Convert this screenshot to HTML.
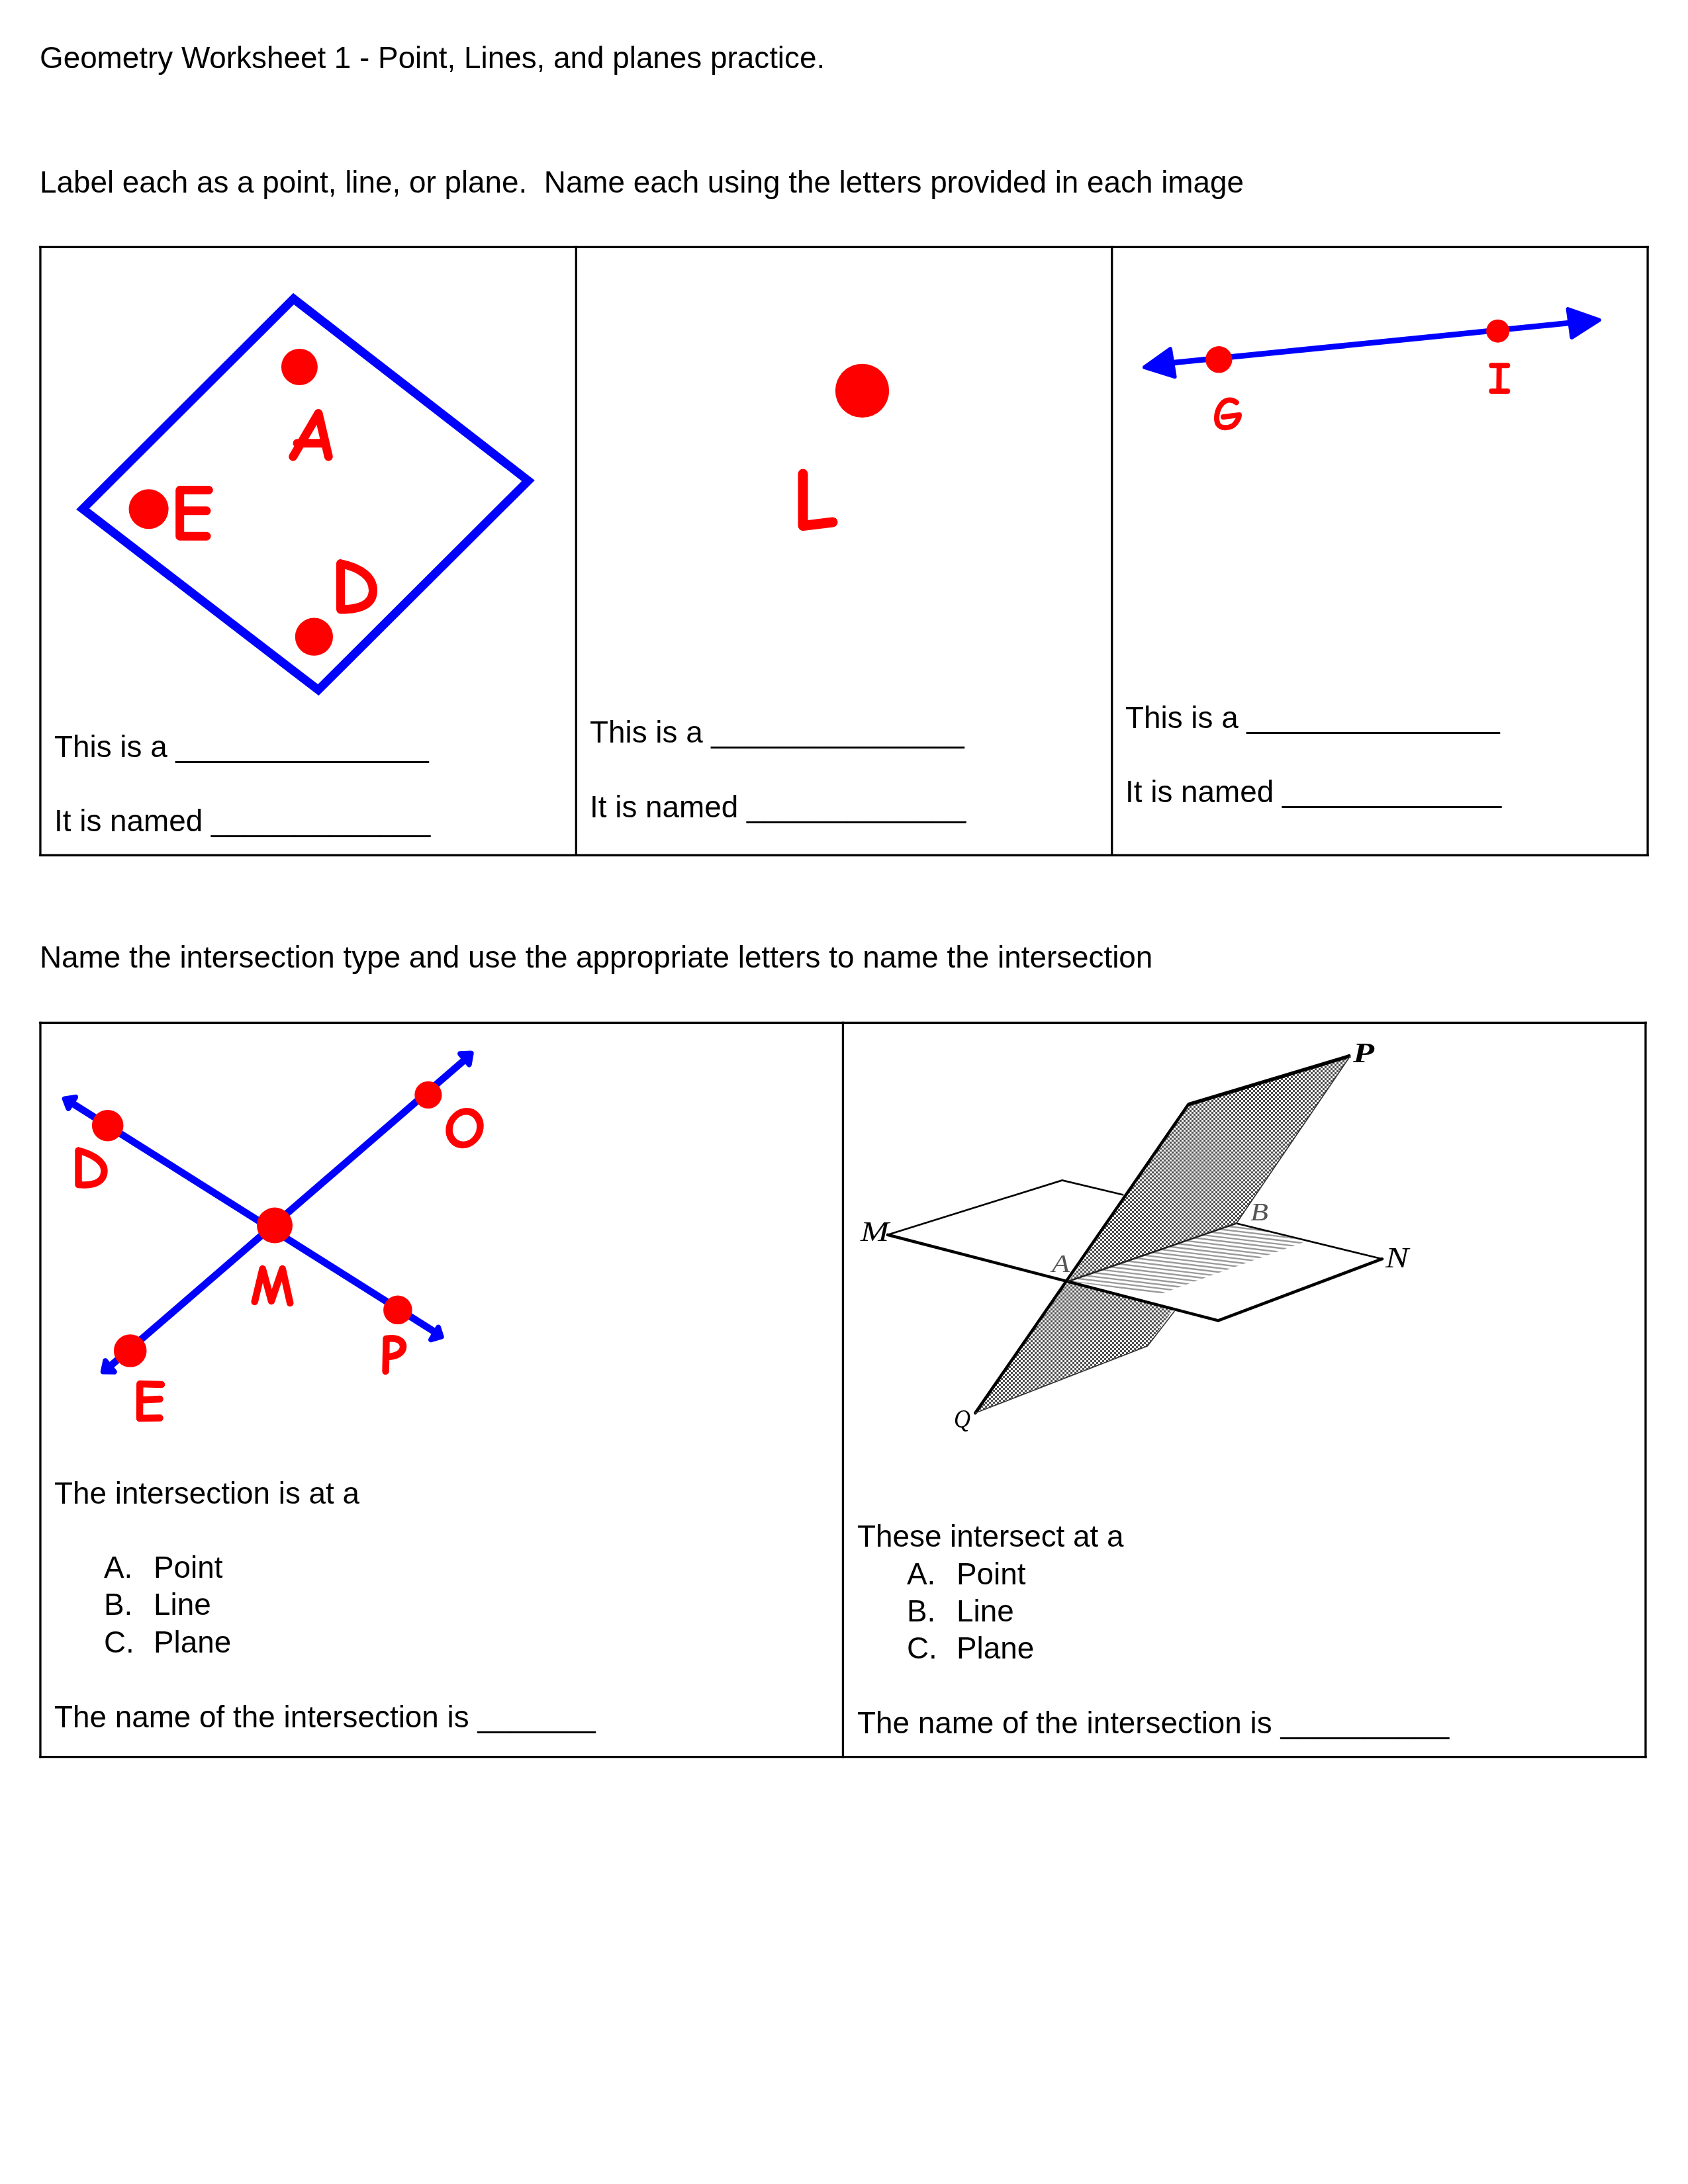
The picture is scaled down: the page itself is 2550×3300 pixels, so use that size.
<!DOCTYPE html>
<html>
<head>
<meta charset="utf-8">
<style>
html,body{margin:0;padding:0;background:#fff;}
body{width:2550px;height:3300px;position:relative;overflow:hidden;font-family:"Liberation Sans",sans-serif;font-size:45.83px;color:#000;}
.t{position:absolute;white-space:pre;line-height:45.83px;will-change:transform;}
.b{position:absolute;background:#000;}
svg{position:absolute;left:0;top:0;}
</style>
</head>
<body>
<!-- text -->
<div class="t" style="left:60px;top:65px">Geometry Worksheet 1 - Point, Lines, and planes practice.</div>
<div class="t" style="left:60px;top:253px">Label each as a point, line, or plane.  Name each using the letters provided in each image</div>

<div class="t" style="left:82px;top:1106px">This is a _______________</div>
<div class="t" style="left:82px;top:1218px">It is named _____________</div>

<div class="t" style="left:891px;top:1084px">This is a _______________</div>
<div class="t" style="left:891px;top:1196.5px">It is named _____________</div>

<div class="t" style="left:1700px;top:1062px">This is a _______________</div>
<div class="t" style="left:1700px;top:1174.4px">It is named _____________</div>

<div class="t" style="left:60px;top:1424px">Name the intersection type and use the appropriate letters to name the intersection</div>

<div class="t" style="left:82px;top:2234px">The intersection is at a</div>
<div class="t" style="left:157px;top:2346.4px">A.</div><div class="t" style="left:232px;top:2346.4px">Point</div>
<div class="t" style="left:157px;top:2402.4px">B.</div><div class="t" style="left:232px;top:2402.4px">Line</div>
<div class="t" style="left:157px;top:2458.8px">C.</div><div class="t" style="left:232px;top:2458.8px">Plane</div>
<div class="t" style="left:82px;top:2571.5px">The name of the intersection is _______</div>

<div class="t" style="left:1294.5px;top:2299.4px">These intersect at a</div>
<div class="t" style="left:1369.5px;top:2355.7px">A.</div><div class="t" style="left:1444.5px;top:2355.7px">Point</div>
<div class="t" style="left:1369.5px;top:2411.8px">B.</div><div class="t" style="left:1444.5px;top:2411.8px">Line</div>
<div class="t" style="left:1369.5px;top:2468.4px">C.</div><div class="t" style="left:1444.5px;top:2468.4px">Plane</div>
<div class="t" style="left:1294.5px;top:2580.8px">The name of the intersection is __________</div>

<svg width="2550" height="3300" viewBox="0 0 2550 3300">
<!-- GRAPHICS -->
<g stroke="#000" stroke-width="3.3"><line x1="59.30" y1="373.45" x2="2490.75" y2="373.45"/><line x1="59.30" y1="1292.27" x2="2490.75" y2="1292.27"/><line x1="60.95" y1="371.80" x2="60.95" y2="1293.92"/><line x1="870.35" y1="371.80" x2="870.35" y2="1293.92"/><line x1="1679.7" y1="371.80" x2="1679.7" y2="1293.92"/><line x1="2489.1" y1="371.80" x2="2489.1" y2="1293.92"/><line x1="59.32" y1="1545.4" x2="2487.60" y2="1545.4"/><line x1="59.32" y1="2654.6" x2="2487.60" y2="2654.6"/><line x1="60.97" y1="1543.75" x2="60.97" y2="2656.25"/><line x1="1273.45" y1="1543.75" x2="1273.45" y2="2656.25"/><line x1="2485.95" y1="1543.75" x2="2485.95" y2="2656.25"/></g>
<polygon points="443.5,451.5 798,726.3 480.8,1042.5 125,769" fill="none" stroke="#0000ff" stroke-width="13" stroke-linejoin="miter"/>
<circle cx="452.4" cy="554.5" r="27.5" fill="#ff0000"/>
<circle cx="224.6" cy="769.3" r="30" fill="#ff0000"/>
<circle cx="474.4" cy="962.2" r="28.6" fill="#ff0000"/>
<g fill="none" stroke="#ff0000" stroke-width="13" stroke-linecap="round" stroke-linejoin="round"><path d="M442.7,690 L481,624.6 L496.3,690 M449,669.8 L489,669.8"/><path d="M315.3,740.5 L271.7,740.5 L271.7,810.2 L312,810.2 M271.7,771.8 L312,771.8"/><path d="M514.5,851.5 L514.5,921 M514.5,851.5 C545,858 564,872 563.5,893 C563,913 545,921 514.5,921"/></g>
<circle cx="1302.5" cy="590.4" r="40.7" fill="#ff0000"/>
<path d="M1213,716 L1213,794.5 L1258,789" fill="none" stroke="#ff0000" stroke-width="15" stroke-linecap="round" stroke-linejoin="round"/>
<line x1="1740" y1="551.4" x2="2405" y2="484.6" stroke="#0000ff" stroke-width="8.5"/>
<polygon points="1729.0,554.9 1767.9,527.2 1774.6,569.2" fill="#0000ff" stroke="#0000ff" stroke-width="6.0" stroke-linejoin="round"/>
<polygon points="2415.8,483.5 2368.6,467.2 2374.5,509.9" fill="#0000ff" stroke="#0000ff" stroke-width="6.0" stroke-linejoin="round"/>
<circle cx="1841.3" cy="543.3" r="20.2" fill="#ff0000"/>
<circle cx="2262.7" cy="500.2" r="17.5" fill="#ff0000"/>
<g fill="none" stroke="#ff0000" stroke-width="8" stroke-linecap="round" stroke-linejoin="round"><path d="M1867.8,608.2 C1862,603 1852,603 1846,610 C1838,619 1836,633 1840,641 C1845,649 1860,647 1866,640 C1870,635 1872,630 1872,627 L1848,630"/><path d="M2253.3,552.3 L2277.3,552.3 M2253.3,591.1 L2277.3,591.1 M2264.8,552.3 L2264.3,591.1"/></g>
<line x1="100" y1="1661.3" x2="665" y2="2017.7" stroke="#0000ff" stroke-width="10.8"/>
<line x1="158" y1="2071.5" x2="710" y2="1594.5" stroke="#0000ff" stroke-width="10.8"/>
<polygon points="97.7,1660.4 114.1,1657.9 103.3,1674.9" fill="#0000ff" stroke="#0000ff" stroke-width="8.0" stroke-linejoin="round"/>
<polygon points="666.7,2019.7 662.1,2005.6 651.1,2024.2" fill="#0000ff" stroke="#0000ff" stroke-width="8.0" stroke-linejoin="round"/>
<polygon points="711.7,1591.6 695.1,1592.2 708.8,1608.4" fill="#0000ff" stroke="#0000ff" stroke-width="8.0" stroke-linejoin="round"/>
<polygon points="155.8,2072.6 159.2,2056.2 172.7,2072.8" fill="#0000ff" stroke="#0000ff" stroke-width="8.0" stroke-linejoin="round"/>
<circle cx="162.7" cy="1700.7" r="23.8" fill="#ff0000"/>
<circle cx="646.9" cy="1654.4" r="20.6" fill="#ff0000"/>
<circle cx="415" cy="1851.6" r="27" fill="#ff0000"/>
<circle cx="600.9" cy="1979.3" r="21.8" fill="#ff0000"/>
<circle cx="196.7" cy="2041" r="24.8" fill="#ff0000"/>
<g fill="none" stroke="#ff0000" stroke-width="10.5" stroke-linecap="round" stroke-linejoin="round"><path d="M118.5,1738.5 L118.5,1790 M118.5,1738.5 C140,1744 157.5,1755 157.5,1769 C157.5,1783 146,1790.5 128,1790.5 L118.5,1790"/><ellipse cx="702" cy="1704.6" rx="23.3" ry="25.3" transform="translate(702 1704.6) skewX(-6) translate(-702 -1704.6)"/><path d="M384.7,1967 L396.7,1917 L410,1966 L426.7,1917 L438.3,1969"/><path d="M582.6,2072 L583.6,2023 C600,2020 609.5,2026 609,2035.5 C608.5,2045 597,2050 584,2050"/><path d="M244,2092 L211.3,2091 L211,2143 L241.5,2142.5 M211.2,2115.5 L241.5,2114"/></g>
<defs><pattern id="dith" width="6" height="6" patternUnits="userSpaceOnUse"><rect width="6" height="6" fill="#f0f0f0"/><rect x="0" y="0" width="3" height="3" fill="#505050"/><rect x="3" y="3" width="3" height="3" fill="#505050"/></pattern><clipPath id="hclip"><polygon points="1614.8,1935.8 1867.7,1848.5 1972.0,1876.0 1752.0,1955.5"/></clipPath></defs>
<polygon points="1795.2,1668.8 2040.0,1595.2 1733.5,2033.8 1473.3,2135.1" fill="url(#dith)"/>
<polygon points="1340.9,1865.7 1604.6,1783.4 2088.0,1902.2 1840.3,1995.4" fill="#fff"/>
<polygon points="1795.2,1668.8 2040.0,1595.2 1867.7,1848.5 1614.8,1935.8" fill="url(#dith)"/>
<path d="M1600,1769.2 L2000,1817.2 M1600,1775.1 L2000,1823.1 M1600,1781.0 L2000,1829.0 M1600,1786.9 L2000,1834.9 M1600,1792.8 L2000,1840.8 M1600,1798.7 L2000,1846.7 M1600,1804.6 L2000,1852.6 M1600,1810.5 L2000,1858.5 M1600,1816.4 L2000,1864.4 M1600,1822.3 L2000,1870.3 M1600,1828.2 L2000,1876.2 M1600,1834.1 L2000,1882.1 M1600,1840.0 L2000,1888.0 M1600,1845.9 L2000,1893.9 M1600,1851.8 L2000,1899.8 M1600,1857.7 L2000,1905.7 M1600,1863.6 L2000,1911.6 M1600,1869.5 L2000,1917.5 M1600,1875.4 L2000,1923.4 M1600,1881.3 L2000,1929.3 M1600,1887.2 L2000,1935.2 M1600,1893.1 L2000,1941.1 M1600,1899.0 L2000,1947.0 M1600,1904.9 L2000,1952.9 M1600,1910.8 L2000,1958.8 M1600,1916.7 L2000,1964.7 M1600,1922.6 L2000,1970.6 M1600,1928.5 L2000,1976.5 M1600,1934.4 L2000,1982.4 M1600,1940.3 L2000,1988.3 M1600,1946.2 L2000,1994.2 M1600,1952.1 L2000,2000.1 M1600,1958.0 L2000,2006.0 M1600,1963.9 L2000,2011.9 M1600,1969.8 L2000,2017.8 M1600,1975.7 L2000,2023.7 M1600,1981.6 L2000,2029.6 M1600,1987.5 L2000,2035.5 M1600,1993.4 L2000,2041.4 M1600,1999.3 L2000,2047.3 M1600,2005.2 L2000,2053.2 M1600,2011.1 L2000,2059.1" stroke="#9a9a9a" stroke-width="2.4" fill="none" clip-path="url(#hclip)"/>
<g stroke="#000" fill="none" stroke-linecap="round"><path d="M1340.9,1865.7 L1840.3,1995.4 L2088.0,1902.2" stroke-width="4.5" stroke-linejoin="miter"/><path d="M1340.9,1865.7 L1604.6,1783.4 L1696.3,1805.3" stroke-width="2.6"/><path d="M1867.7,1848.5 L2088.0,1902.2" stroke-width="2.6"/><path d="M1795.2,1668.8 L2040.0,1595.2" stroke-width="5.5" stroke-linecap="butt"/><path d="M1795.2,1668.8 L1473.3,2135.1" stroke-width="4.5"/><path d="M1614.8,1935.8 L1867.7,1848.5" stroke-width="2.6" stroke="#222"/><path d="M2040.0,1595.2 L1867.7,1848.5 M1774.0,1981.6 L1733.5,2033.8 L1473.3,2135.1" stroke-width="1.6" stroke="#333"/></g>
<g font-family="Liberation Serif" font-style="italic" fill="#000"><text id="lM" x="1300" y="1875" font-size="42" textLength="43" lengthAdjust="spacingAndGlyphs">M</text><text id="lN" x="2093" y="1915" font-size="44" textLength="35" lengthAdjust="spacingAndGlyphs">N</text><text id="lP" x="2044" y="1605" font-size="42" font-weight="bold" textLength="32" lengthAdjust="spacingAndGlyphs">P</text><text id="lQ" x="1441" y="2157" font-size="40" textLength="25" lengthAdjust="spacingAndGlyphs">Q</text><text id="lA" x="1589" y="1922" fill="#555" font-size="38" textLength="27" lengthAdjust="spacingAndGlyphs">A</text><text id="lB" x="1889" y="1844" fill="#555" font-size="38" textLength="27" lengthAdjust="spacingAndGlyphs">B</text></g>
</svg>
</body>
</html>
